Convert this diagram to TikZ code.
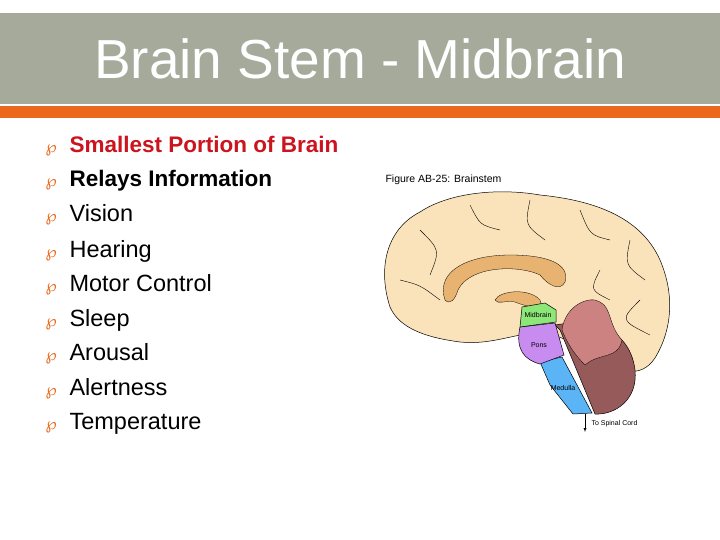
\documentclass[tikz,border=0pt]{standalone}
\usepackage{fontspec}
\setmainfont{Liberation Sans}
\newfontfamily\sym{DejaVu Sans}
\definecolor{band}{RGB}{166,170,155}
\definecolor{orng}{RGB}{236,104,28}
\definecolor{redt}{RGB}{204,20,30}
\definecolor{skin}{RGB}{250,226,186}
\definecolor{cc}{RGB}{232,178,112}
\definecolor{cereb}{RGB}{150,90,90}
\definecolor{arbor}{RGB}{205,130,130}
\definecolor{midb}{RGB}{140,230,120}
\definecolor{pons}{RGB}{200,140,240}
\definecolor{med}{RGB}{90,180,245}
\begin{document}
\begin{tikzpicture}[x=1pt,y=-1pt,
  item/.style={anchor=base west,font=\fontsize{23.5}{24}\selectfont},
  bul/.style={anchor=base west,text=orng,font=\sym\fontsize{16}{16}\selectfont},
  lab/.style={font=\fontsize{7}{7}\selectfont},
  part/.style={draw=black,line width=0.5pt}]
\useasboundingbox (0,0) rectangle (720,540);
\fill[white] (0,0) rectangle (720,540);
\fill[band] (0,13) rectangle (720,104);
\fill[orng] (0,106) rectangle (720,118);
\node[text=white,font=\fontsize{55}{55}\selectfont] (title) at (360,59) {Brain Stem - Midbrain};
\foreach \t/\y/\c [count=\i] in {Smallest Portion of Brain/153/redt,Relays Information/187/black,Vision/222/black,Hearing/257/black,Motor Control/291/black,Sleep/326/black,Arousal/360/black,Alertness/395/black,Temperature/429/black}{
  \node[bul] (b\i) at (42,\y) {℘};
  \ifnum\i<3 \node[item,text=\c,font=\bfseries\fontsize{22.5}{24}\selectfont] (t\i) at (66,\y) {\t};
  \else \node[item,text=\c] (t\i) at (66,\y) {\t};\fi
}
\node[anchor=west,font=\fontsize{10.5}{10.5}\selectfont] (fig) at (382,180) {Figure AB-25: Brainstem};
% cerebrum
\draw[part,fill=skin] (390,307) .. controls (378,270) and (385,230) .. (420,212)
  .. controls (450,192) and (500,188) .. (540,195)
  .. controls (590,200) and (640,215) .. (660,260)
  .. controls (675,295) and (672,330) .. (655,358)
  .. controls (640,380) and (620,370) .. (600,362)
  .. controls (580,345) and (560,335) .. (540,332)
  .. controls (510,335) and (490,345) .. (460,342)
  .. controls (430,338) and (400,330) .. (390,307) -- cycle;
\foreach \a/\b/\c in {{420,230}/{440,250}/{430,275},{470,205}/{480,225}/{500,230},{530,200}/{525,225}/{545,240},{580,210}/{590,235}/{610,240},{630,240}/{625,265}/{645,280},{400,280}/{420,285}/{440,300},{640,300}/{620,320}/{650,335},{600,270}/{590,290}/{610,300}}
  \draw[line width=0.4pt] (\a) .. controls (\b) .. (\c);
% corpus callosum
\draw[part,fill=cc,line width=0.3pt] (445,300) .. controls (435,270) and (470,255) .. (510,255)
  .. controls (550,255) and (570,265) .. (565,282) .. controls (560,292) and (548,285) .. (540,275)
  .. controls (520,265) and (470,265) .. (458,290) .. controls (455,300) and (450,305) .. (445,300) -- cycle;
\draw[part,fill=cc,line width=0.3pt] (495,300) .. controls (500,290) and (530,288) .. (540,300)
  .. controls (545,310) and (530,308) .. (515,302) .. controls (505,300) and (498,305) .. (495,300) -- cycle;
% cerebellum
\draw[part,fill=cereb] (555,325) .. controls (595,318) and (630,330) .. (635,370)
  .. controls (638,400) and (615,415) .. (595,414) -- (560,330) -- cycle;
\draw[part,fill=arbor,line width=0.3pt] (562,330) .. controls (565,305) and (590,295) .. (600,302)
  .. controls (612,308) and (608,325) .. (622,340) .. controls (618,360) and (600,352) .. (585,365)
  .. controls (575,355) and (568,345) .. (562,330) -- cycle;
% brainstem
\draw[part,fill=med] (540,362) -- (562,357) -- (592,413) -- (573,414) -- (550,385) -- cycle;
\draw[part,fill=pons] (520,327) -- (555,323) -- (564,355) -- (540,364) .. controls (525,360) and (515,350) .. (520,327) -- cycle;
\draw[part,fill=midb] (522,307) -- (545,303) -- (556,310) -- (556,322) -- (520,327) -- cycle;
\node[lab] (lm) at (538,315) {Midbrain};
\node[lab] (lp) at (539,345) {Pons};
\node[lab] (lmd) at (563,388) {Medulla};
\coordinate (sc) at (585,432);
\draw[-latex,line width=0.4pt] (585,414) -- (sc);
\node[lab,anchor=west] (ls) at (588,424) {To Spinal Cord};
\end{tikzpicture}
\end{document}
